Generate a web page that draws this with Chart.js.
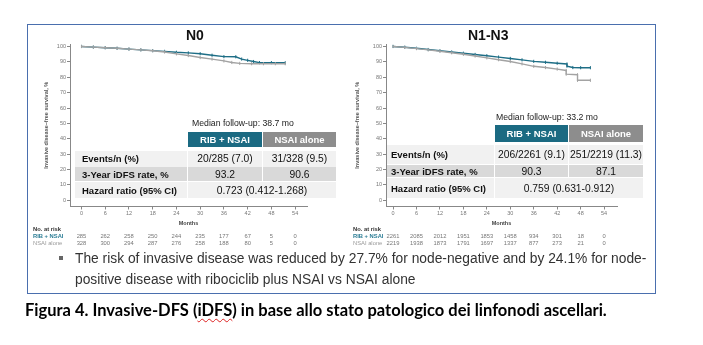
<!DOCTYPE html>
<html>
<head>
<meta charset="utf-8">
<script src="https://cdn.jsdelivr.net/npm/chart.js@4.4.1/dist/chart.umd.min.js"></script>
<style>
  body { margin: 0; width: 703px; height: 345px; position: relative; overflow: hidden; background: #fff;
         font-family: "Liberation Sans", Arial, sans-serif; }
  .frame { position: absolute; left: 27px; top: 24px; width: 627px; height: 268px; border: 1px solid #4a6fae; }
  canvas { position: absolute; }
  .ttl { position: absolute; font-weight: bold; font-size: 14px; color: #111; line-height: 14px; }
  .median { position: absolute; font-size: 8.7px; color: #222; line-height: 10px; white-space: nowrap; }
  .cell { position: absolute; display: flex; align-items: center; white-space: nowrap; box-sizing: border-box; }
  .hd { justify-content: center; color: #fff; font-weight: bold; font-size: 9.5px; }
  .lbl { padding-left: 7px; font-weight: bold; font-size: 9.5px; color: #111; }
  .val { justify-content: center; font-size: 10.3px; color: #111; }
  .light { background: #f1f1f1; }
  .dark { background: #d9d9d9; }
  .note { position: absolute; left: 75px; top: 248px; font-size: 13.8px; line-height: 21px; color: #333; white-space: nowrap; }
  .sq { position: absolute; left: 59px; top: 256px; width: 4px; height: 4px; background: #666; }
  .caption { position: absolute; left: 25px; top: 300px; font-family: Lato, "Open Sans", sans-serif; font-weight: bold;
             font-size: 16.5px; color: #000; white-space: nowrap; }
  .caption u { text-decoration: underline wavy #d22; text-decoration-thickness: 1px; text-underline-offset: 2px; }
</style>
</head>
<body>
<div class="frame"></div>

<canvas id="n0" width="300" height="226" style="left:28px;top:25px"></canvas>
<canvas id="npos" width="300" height="226" style="left:344px;top:25px"></canvas>

<div class="ttl" style="left:186px;top:28px">N0</div>
<div class="ttl" style="left:468px;top:28px">N1-N3</div>

<!-- N0 summary -->
<div class="median" style="left:192px;top:118px">Median follow-up: 38.7 mo</div>
<div class="cell hd" style="left:188px;top:132px;width:74px;height:15px;background:#1b6a82">RIB + NSAI</div>
<div class="cell hd" style="left:263px;top:132px;width:73px;height:15px;background:#8d8d8d">NSAI alone</div>
<div class="cell lbl light" style="left:75px;top:151px;width:112px;height:15.5px">Events/n (%)</div>
<div class="cell val light" style="left:188px;top:151px;width:74px;height:15.5px">20/285 (7.0)</div>
<div class="cell val light" style="left:263px;top:151px;width:73px;height:15.5px">31/328 (9.5)</div>
<div class="cell lbl dark" style="left:75px;top:167px;width:112px;height:14px">3-Year iDFS rate, %</div>
<div class="cell val dark" style="left:188px;top:167px;width:74px;height:14px">93.2</div>
<div class="cell val dark" style="left:263px;top:167px;width:73px;height:14px">90.6</div>
<div class="cell lbl light" style="left:75px;top:182px;width:112px;height:16px">Hazard ratio (95% CI)</div>
<div class="cell val light" style="left:188px;top:182px;width:148px;height:16px">0.723 (0.412-1.268)</div>

<!-- N1-N3 summary -->
<div class="median" style="left:496px;top:112px">Median follow-up: 33.2 mo</div>
<div class="cell hd" style="left:495px;top:125px;width:73px;height:17px;background:#1b6a82">RIB + NSAI</div>
<div class="cell hd" style="left:569px;top:125px;width:74px;height:17px;background:#8d8d8d">NSAI alone</div>
<div class="cell lbl light" style="left:387px;top:145px;width:107px;height:19px;padding-left:4px">Events/n (%)</div>
<div class="cell val light" style="left:495px;top:145px;width:73px;height:19px">206/2261 (9.1)</div>
<div class="cell val light" style="left:569px;top:145px;width:74px;height:19px">251/2219 (11.3)</div>
<div class="cell lbl dark" style="left:387px;top:165px;width:107px;height:12px;padding-left:4px">3-Year iDFS rate, %</div>
<div class="cell val dark" style="left:495px;top:165px;width:73px;height:12px">90.3</div>
<div class="cell val dark" style="left:569px;top:165px;width:74px;height:12px">87.1</div>
<div class="cell lbl light" style="left:387px;top:178px;width:107px;height:20px;padding-left:4px">Hazard ratio (95% CI)</div>
<div class="cell val light" style="left:495px;top:178px;width:148px;height:20px">0.759 (0.631-0.912)</div>

<div class="sq"></div>
<div class="note">The risk of invasive disease was reduced by 27.7% for node-negative and by 24.1% for node-<br>positive disease with ribociclib plus NSAI vs NSAI alone</div>

<div class="caption">Figura 4. Invasive-DFS (<u>iDFS</u>) in base allo stato patologico dei linfonodi ascellari.</div>

<script>
// axis ticks
const monthTicks = [0, 6, 12, 18, 24, 30, 36, 42, 48, 54];
const survivalTicks = [0, 10, 20, 30, 40, 50, 60, 70, 80, 90, 100];

// N0 curves (months, iDFS %)
const n0RibMonths = [0, 3, 6, 9, 12, 15, 18, 21, 24, 27, 30, 33, 36, 39, 40.5, 42, 43.5, 45, 48, 51.5];
const n0RibSurv   = [100, 99.6, 99.2, 98.8, 98.3, 97.8, 97.3, 96.8, 96.2, 95.8, 95.3, 94.3, 93.4, 93.3, 91.8, 91.0, 90.2, 89.5, 89.5, 89.4];
const n0NsaiMonths = [0, 3, 6, 9, 12, 15, 18, 21, 24, 27, 30, 33, 36, 38, 40, 43, 46, 49, 51.5];
const n0NsaiSurv   = [100, 99.6, 99.2, 98.8, 98.3, 97.8, 97.2, 96.4, 95.2, 94.1, 92.8, 91.8, 90.6, 89.6, 89.0, 88.8, 88.8, 88.8, 88.8];

// N1-N3 curves
const nposRibMonths = [0, 3, 6, 9, 12, 15, 18, 21, 24, 27, 30, 33, 36, 39, 42, 44.5, 44.5, 46, 48, 50.5];
const nposRibSurv   = [100, 99.5, 98.8, 98.0, 97.2, 96.4, 95.6, 94.8, 94.0, 93.1, 92.2, 91.3, 90.3, 89.7, 89.1, 88.6, 87.2, 86.3, 86.2, 86.2];
const nposNsaiMonths = [0, 3, 6, 9, 12, 15, 18, 21, 24, 27, 30, 33, 36, 39, 42, 44.3, 44.3, 47.2, 47.2, 50.5];
const nposNsaiSurv   = [100, 99.4, 98.6, 97.8, 96.9, 95.9, 94.9, 93.8, 92.6, 91.4, 90.2, 88.7, 87.1, 86.3, 85.3, 84.4, 82.0, 81.6, 78.0, 78.0];

// numbers at risk, one per month tick
const n0RibAtRisk   = [285, 262, 258, 250, 244, 235, 177, 67, 5, 0];
const n0NsaiAtRisk  = [328, 300, 294, 287, 276, 258, 188, 80, 5, 0];
const nposRibAtRisk  = [2261, 2085, 2012, 1951, 1853, 1458, 934, 301, 18, 0];
const nposNsaiAtRisk = [2219, 1938, 1873, 1791, 1697, 1337, 877, 273, 21, 0];

const TEAL = "#1e6e86";
const GREY = "#a3a3a3";
const FONT = '"Liberation Sans", Arial, sans-serif';

const toPoints = (xs, ys) => xs.map((x, i) => ({ x: x, y: ys[i] }));

// draws the "No. at risk" rows under the x axis, aligned on the month ticks
const riskTablePlugin = {
    id: "riskTable",
    afterDraw(chart, args, opts) {
        const ctx = chart.ctx;
        const xs = chart.scales.x;
        ctx.save();
        ctx.textBaseline = "middle";
        ctx.textAlign = "left";
        ctx.font = "bold 5.8px " + FONT;
        ctx.fillStyle = "#333";
        ctx.fillText("No. at risk", opts.labelX, opts.rowY[0]);
        ctx.fillStyle = "#2c7d95";
        ctx.fillText("RIB + NSAI", opts.labelX, opts.rowY[1]);
        ctx.font = "5.8px " + FONT;
        ctx.fillStyle = "#9a9a9a";
        ctx.fillText("NSAI alone", opts.labelX, opts.rowY[2]);
        ctx.textAlign = "center";
        ctx.fillStyle = "#777";
        opts.rib.forEach((n, i) => ctx.fillText(String(n), xs.getPixelForValue(monthTicks[i]), opts.rowY[1]));
        opts.nsai.forEach((n, i) => ctx.fillText(String(n), xs.getPixelForValue(monthTicks[i]), opts.rowY[2]));
        ctx.restore();
    },
};

function makeKmChart(canvasId, cfg) {
    const ctx = document.getElementById(canvasId);
    const lineDs = (label, pts, color) => ({
        label: label,
        data: pts,
        borderColor: color,
        backgroundColor: color,
        borderWidth: 1.4,
        pointStyle: "line",
        pointRotation: 90,
        pointRadius: 1.6,
        pointBorderWidth: 1,
        tension: 0,
        fill: false,
    });
    return new Chart(ctx, {
        type: "line",
        data: {
            datasets: [
                lineDs("NSAI alone", cfg.nsai, GREY),
                lineDs("RIB + NSAI", cfg.rib, TEAL),
            ],
        },
        plugins: [riskTablePlugin],
        options: {
            responsive: false,
            animation: false,
            layout: { padding: { top: 19, left: 0, right: cfg.padRight, bottom: 24.5 } },
            plugins: {
                legend: { display: false },
                tooltip: { enabled: false },
                riskTable: { rib: cfg.ribRisk, nsai: cfg.nsaiRisk, labelX: cfg.labelX, rowY: [204, 211, 218] },
            },
            scales: {
                x: {
                    type: "linear",
                    min: cfg.xMin,
                    max: cfg.xMax,
                    afterBuildTicks: (s) => { s.ticks = monthTicks.map((v) => ({ value: v })); },
                    afterFit: (s) => { s.height = 20; },
                    ticks: { color: "#777", padding: 1, font: { family: FONT, size: 5.5 } },
                    grid: { drawOnChartArea: false, tickLength: 3, color: "#888" },
                    border: { display: true, color: "#888", width: 1 },
                    title: { display: true, text: "Months", color: "#444", padding: 0,
                             font: { family: FONT, size: 5.5, weight: "bold" } },
                },
                y: {
                    min: -4,
                    max: 101.6,
                    afterBuildTicks: (s) => { s.ticks = survivalTicks.map((v) => ({ value: v })); },
                    afterFit: (s) => { s.width = 42; },
                    ticks: { color: "#777", padding: 1, font: { family: FONT, size: 5.5 } },
                    grid: { drawOnChartArea: false, tickLength: 3, color: "#888" },
                    border: { display: true, color: "#888", width: 1 },
                    title: { display: true, text: "Invasive disease–free survival, %", color: "#555",
                             padding: { top: cfg.yTitlePad, bottom: 0 },
                             font: { family: FONT, size: 5.5, weight: "bold" } },
                },
            },
        },
    });
}

makeKmChart("n0", {
    rib: toPoints(n0RibMonths, n0RibSurv),
    nsai: toPoints(n0NsaiMonths, n0NsaiSurv),
    ribRisk: n0RibAtRisk,
    nsaiRisk: n0NsaiAtRisk,
    xMin: -2.9, xMax: 57, padRight: 21, labelX: 5, yTitlePad: 15.5,
});

makeKmChart("npos", {
    rib: toPoints(nposRibMonths, nposRibSurv),
    nsai: toPoints(nposNsaiMonths, nposNsaiSurv),
    ribRisk: nposRibAtRisk,
    nsaiRisk: nposNsaiAtRisk,
    xMin: -1.8, xMax: 57.3, padRight: 27, labelX: 9, yTitlePad: 10,
});
</script>
</body>
</html>
